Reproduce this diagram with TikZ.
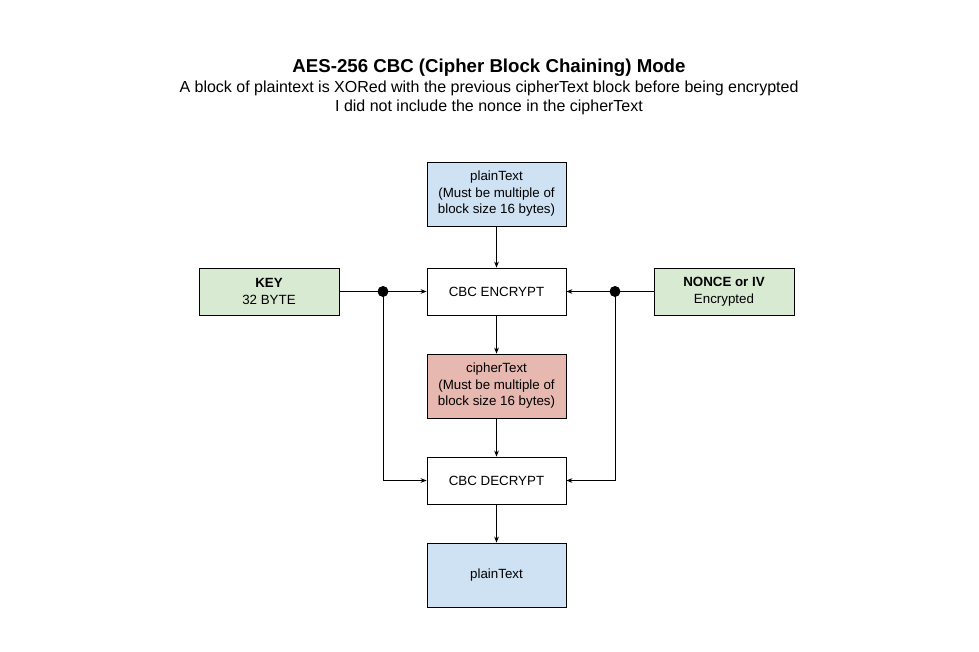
\documentclass[tikz,border=0pt]{standalone}
\usepackage{fontspec}
\setmainfont{Liberation Sans}
\usetikzlibrary{arrows.meta}
\definecolor{bluefill}{HTML}{CFE2F3}
\definecolor{greenfill}{HTML}{D9EAD3}
\definecolor{redfill}{HTML}{E6B8AF}
\begin{document}
\begin{tikzpicture}[x=0.75pt,y=-0.75pt,
  box/.style={draw=black,line width=0.6pt,minimum width=104.25pt,minimum height=48pt,align=center,inner sep=0pt,font=\fontsize{10pt}{12.4pt}\selectfont},
  opbox/.style={box,minimum height=35.25pt,fill=white},
  sidebox/.style={box,minimum width=105pt,minimum height=35.25pt,fill=greenfill},
  conn/.style={line width=0.6pt,-{Stealth[length=4.5pt,width=3.5pt]}},
  wire/.style={line width=0.6pt},
  dot/.style={circle,fill=black,inner sep=0pt,minimum size=8pt}]
\useasboundingbox (0,0) rectangle (979,652);
\node[font=\bfseries\fontsize{14pt}{16pt}\selectfont] (title) at (489,68) {AES-256 CBC (Cipher Block Chaining) Mode};
\node[font=\fontsize{12pt}{14pt}\selectfont] (sub1) at (489,88) {A block of plaintext is XORed with the previous cipherText block before being encrypted};
\node[font=\fontsize{12pt}{14pt}\selectfont] (sub2) at (489,107) {I did not include the nonce in the cipherText};

\node[box,fill=bluefill] (pt1) at (496.5,194) {plainText\\(Must be multiple of\\block size 16 bytes)};
\node[opbox] (enc) at (496.5,291.5) {CBC ENCRYPT};
\node[box,fill=redfill] (ct) at (496.5,386) {cipherText\\(Must be multiple of\\block size 16 bytes)};
\node[opbox] (dec) at (496.5,480.5) {CBC DECRYPT};
\node[box,fill=bluefill] (pt2) at (496.5,575) {plainText};
\node[sidebox] (key) at (269,291.5) {\textbf{KEY}\\32 BYTE};
\node[sidebox] (nonce) at (724,291.5) {\textbf{NONCE or IV}\\Encrypted};
\node[dot] (kd) at (383,291.5) {};
\node[dot] (nd) at (615,291.5) {};

\draw[conn] (pt1) -- (enc);
\draw[conn] (enc) -- (ct);
\draw[conn] (ct) -- (dec);
\draw[conn] (dec) -- (pt2);
\draw[wire] (key) -- (kd.center);
\draw[conn] (kd.center) -- (enc);
\draw[conn] (kd.center) |- (dec);
\draw[wire] (nonce) -- (nd.center);
\draw[conn] (nd.center) -- (enc);
\draw[conn] (nd.center) |- (dec);
\node[dot] at (kd) {};
\node[dot] at (nd) {};
\end{tikzpicture}
\end{document}
